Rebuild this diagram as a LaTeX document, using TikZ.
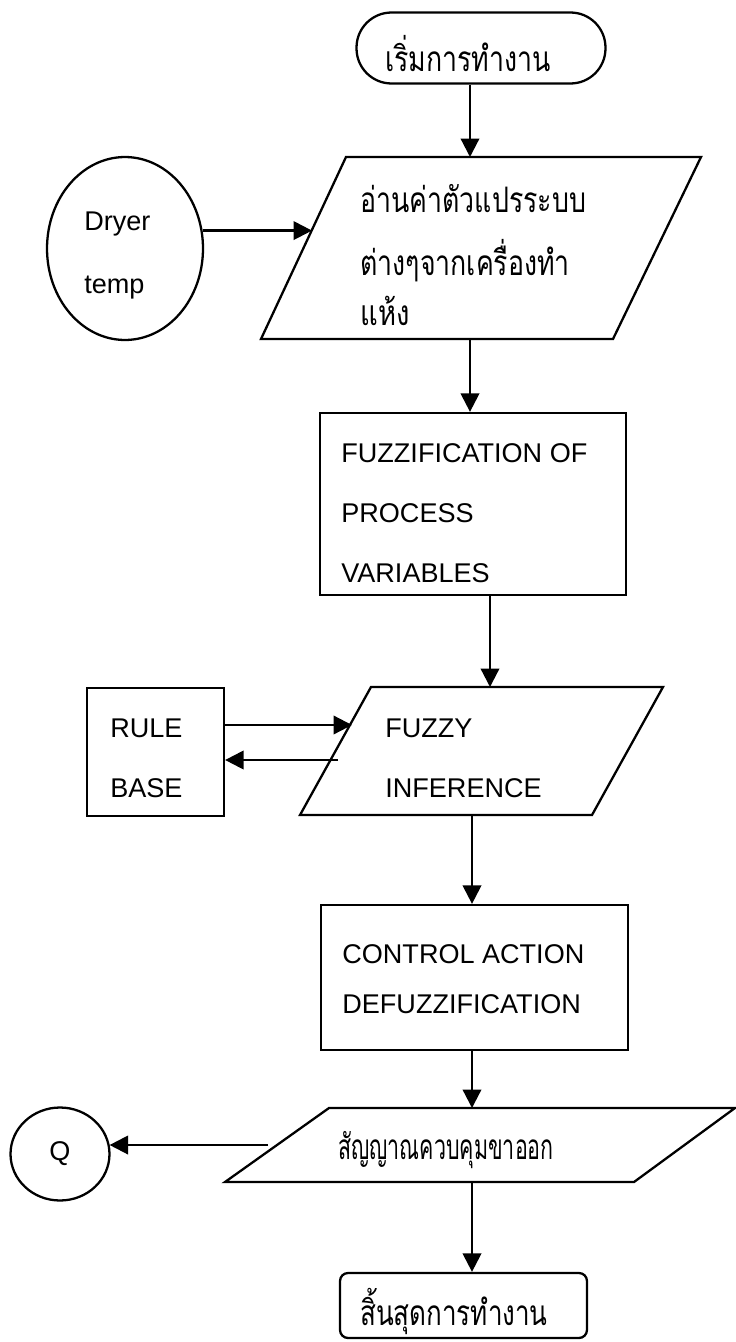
\documentclass[tikz,border=0pt]{standalone}
\usepackage{fontspec}
\usepackage{graphicx}
\setmainfont{Liberation Sans}
\newfontfamily\thaifont[Script=Thai]{Loma}
\usetikzlibrary{arrows.meta,shapes.geometric}

% Loma is wide, squeeze it a little
\newcommand\narrowth[2][0.76]{\scalebox{#1}[1]{#2}}

\begin{document}
\begin{tikzpicture}[x=0.02cm,y=-0.02cm,
  shp/.style={draw, line width=1.3pt},
  flow/.style={line width=1.3pt, -{Triangle[length=10.5pt,width=10.5pt]}},
  en/.style={font=\fontsize{15.4}{18}\selectfont, anchor=base west, inner sep=0pt},
  th/.style={font=\thaifont\fontsize{20}{24}\selectfont, inner sep=0pt}]

\useasboundingbox (0,0) rectangle (736,1342);

% start
\node [shp, rounded corners=0.7cm, minimum width=4.98cm, minimum height=1.42cm] (start) at (481,48) {};
\node [th, anchor=base] (starttxt) at (468,71) {\narrowth{เริ่มการทำงาน}};

% read the dryer
\coordinate (p1a) at (346,157);
\coordinate (p1b) at (701,157);
\coordinate (p1c) at (613,339);
\coordinate (p1d) at (261,339);
\draw [shp] (p1a) -- (p1b) -- (p1c) -- (p1d) -- cycle;
\node [th, anchor=base west] (rd1) at (360,212) {\narrowth{อ่านค่าตัวแปรระบบ}};
\node [th, anchor=base west] (rd2) at (360,275) {\narrowth{ต่างๆจากเครื่องทำ}};
\node [th, anchor=base west] (rd3) at (360,325) {\narrowth[0.78]{แห้ง}};

\node [shp, ellipse, minimum width=3.12cm, minimum height=3.66cm] (dry) at (125,248.5) {};
\node [en] (dry1) at (84,230) {Dryer};
\node [en] (dry2) at (84,293) {temp};

\coordinate (p1in) at (470,157);
\coordinate (p1l) at (312,230);
\coordinate (p1out) at (470,339);
\draw [flow] (start.south -| p1in) -- (p1in);
\draw [flow] (dry.13) -- (dry.13 -| p1l);

% fuzzification
\node [shp, minimum width=6.12cm, minimum height=3.64cm] (fuzz) at (473,504) {};
\node [en] (fz1) at (341,462) {FUZZIFICATION OF};
\node [en] (fz2) at (341,522) {PROCESS};
\node [en] (fz3) at (341,582) {VARIABLES};
\draw [flow] (p1out) -- (p1out |- fuzz.north);

% inference
\coordinate (p2a) at (371,687);
\coordinate (p2b) at (663,687);
\coordinate (p2c) at (592,815);
\coordinate (p2d) at (300,815);
\draw [shp] (p2a) -- (p2b) -- (p2c) -- (p2d) -- cycle;
\node [en] (inf1) at (385,737) {FUZZY};
\node [en] (inf2) at (385,797) {INFERENCE};

\node [shp, minimum width=2.74cm, minimum height=2.56cm] (rule) at (155.5,752) {};
\node [en] (rb1) at (110,737) {RULE};
\node [en] (rb2) at (110,797) {BASE};

\coordinate (p2in) at (490,687);
\coordinate (p2l) at (352,725);
\coordinate (p2back) at (338,760);
\coordinate (p2out) at (472,815);
\draw [flow] (fuzz.south -| p2in) -- (p2in);
\draw [flow] (rule.east |- p2l) -- (p2l);
\draw [flow] (p2back) -- (p2back -| rule.east);

% defuzzification
\node [shp, minimum width=6.14cm, minimum height=2.9cm] (ca) at (474.5,977.5) {};
\node [en] (ca1) at (342,963) {CONTROL ACTION};
\node [en] (ca2) at (342,1013) {DEFUZZIFICATION};
\draw [flow] (p2out) -- (p2out |- ca.north);

% output signal
\coordinate (p3a) at (329,1108);
\coordinate (p3b) at (735,1108);
\coordinate (p3c) at (634,1182);
\coordinate (p3d) at (225,1182);
\draw [shp] (p3a) -- (p3b) -- (p3c) -- (p3d) -- cycle;
\node [th, anchor=base] (out) at (446,1159) {\narrowth[0.61]{สัญญาณควบคุมขาออก}};

\node [shp, ellipse, minimum width=1.98cm, minimum height=1.86cm,
  font=\fontsize{15.4}{18}\selectfont] (q) at (60,1154) {Q};

\coordinate (p3in) at (472,1108);
\coordinate (p3l) at (268,1145);
\coordinate (p3out) at (472,1182);
\draw [flow] (ca.south -| p3in) -- (p3in);
\draw [flow] (p3l) -- (p3l -| q.11);

% stop
\node [shp, rounded corners=0.16cm, minimum width=4.94cm, minimum height=1.3cm] (stop) at (463.5,1305.5) {};
\node [th, anchor=base] (stoptxt) at (454,1325) {\narrowth[0.74]{สิ้นสุดการทำงาน}};
\draw [flow] (p3out) -- (p3out |- stop.north);

\end{tikzpicture}
\end{document}
